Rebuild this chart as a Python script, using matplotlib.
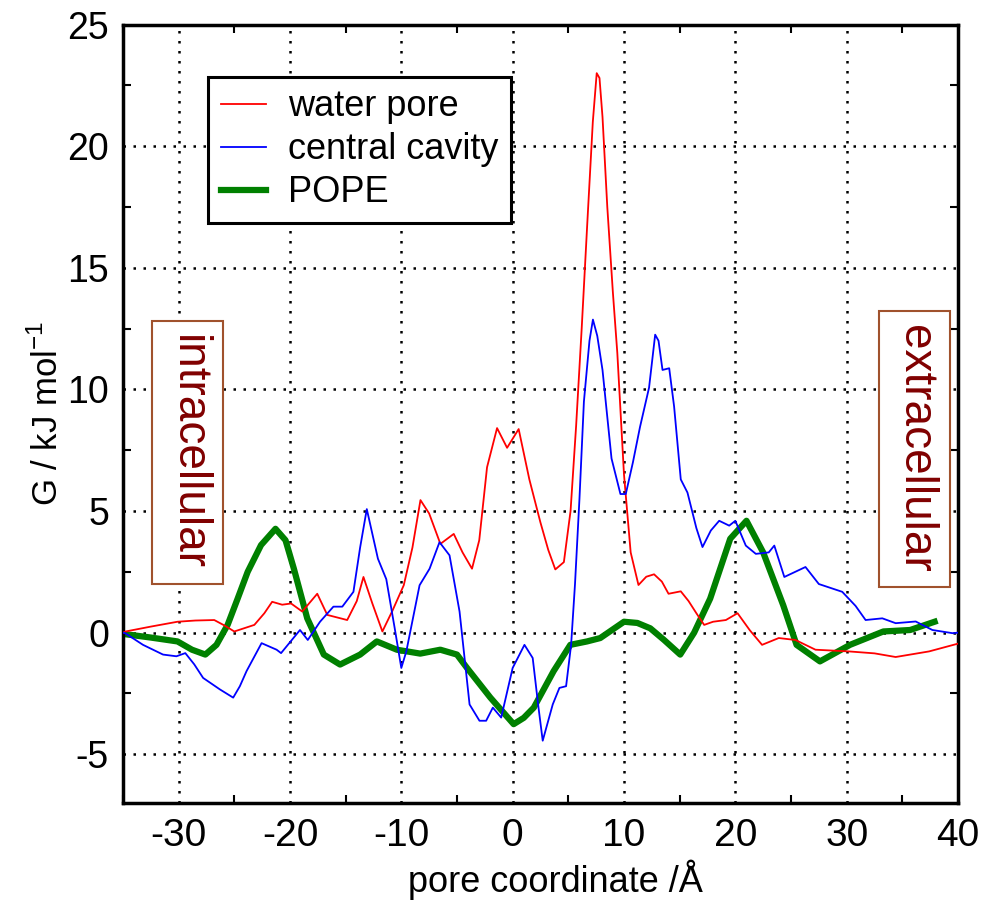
import numpy as np
import matplotlib
matplotlib.use("Agg")
import matplotlib.pyplot as plt
from matplotlib.ticker import MultipleLocator

# water pore (red)
water_x = [-35, -34.75, -32.5, -30.1, -28.5, -26.8, -25.9, -25.0, -23.2, -22.3, -21.6, -20.7,
           -19.9, -18.9, -17.55, -16.65, -14.86, -14.0, -13.4, -12.6, -11.7, -10.8, -9.78, -9.0,
           -8.28, -7.5, -6.49, -5.29, -4.5, -3.65, -3.0, -2.3, -1.4, -0.5, 0.54, 1.5, 2.49, 3.2,
           3.83, 4.6, 5.2, 5.7, 6.2, 6.7, 7.2, 7.55, 7.8, 8.07, 8.5, 9.0, 9.4, 10.0, 10.6, 11.3,
           12.0, 12.7, 13.4, 14.0, 15.1, 15.8, 16.5, 17.2, 18.0, 19.15, 20.2, 21.3, 22.4, 23.9,
           25.4, 27.2, 30.2, 32.5, 34.4, 37.4, 40]
water_y = [0.0, 0.05, 0.25, 0.45, 0.5, 0.52, 0.3, 0.05, 0.32, 0.8, 1.27, 1.15,
           1.2, 0.87, 1.6, 0.73, 0.52, 1.3, 2.29, 1.2, 0.05, 0.9, 1.95, 3.5,
           5.45, 4.9, 3.65, 4.06, 3.3, 2.63, 3.8, 6.8, 8.41, 7.6, 8.37, 6.3, 4.54, 3.4,
           2.6, 2.9, 5.0, 8.5, 12.5, 16.8, 21.0, 23.0, 22.8, 21.2, 17.5, 14.0, 11.5, 6.5, 3.3, 1.96,
           2.3, 2.4, 2.1, 1.6, 1.7, 1.3, 0.8, 0.32, 0.45, 0.52, 0.8, 0.1, -0.5, -0.22,
           -0.3, -0.7, -0.77, -0.85, -1.0, -0.77, -0.45]

# central cavity (blue)
cavity_x = [-35, -34.8, -33.2, -31.4, -30.2, -29.4, -28.6, -27.8, -26.3, -25.1, -24.5, -23.9,
            -22.55, -21.2, -20.8, -19.1, -18.4, -17.3, -16.1, -15.3, -14.3, -13.7, -13.1, -12.1,
            -11.35, -10.6, -10.0, -9.55, -8.36, -7.46, -6.57, -5.67, -4.77, -3.87, -2.98, -2.38,
            -1.78, -1.03, 0.0, 1.06, 1.8, 2.3, 2.7, 3.6, 4.2, 4.8, 5.25, 5.6, 6.0, 6.4, 6.9, 7.21,
            7.6, 8.07, 8.88, 9.68, 10.16, 10.8, 11.44, 12.25, 12.8, 13.1, 13.46, 14.06, 14.5, 15.1,
            15.7, 16.5, 17.05, 17.8, 18.55, 19.45, 20.0, 20.94, 21.84, 23.0, 23.5, 24.4, 26.3,
            27.5, 29.6, 30.8, 31.7, 33.2, 34.4, 36.2, 37.7, 39.5, 40]
cavity_y = [0.0, -0.02, -0.5, -0.9, -0.97, -0.84, -1.3, -1.86, -2.33, -2.67, -2.2, -1.58,
            -0.43, -0.7, -0.84, 0.11, -0.3, 0.45, 1.07, 1.07, 1.68, 3.5, 5.08, 3.04,
            2.2, 0.2, -1.45, -0.77, 1.95, 2.63, 3.72, 3.18, 0.87, -2.95, -3.62, -3.62,
            -3.08, -3.49, -1.45, -0.5, -1.04, -3.0, -4.44, -2.95, -2.27, -2.2, -0.5, 2.0, 5.5, 9.5, 12.0, 12.87,
            12.2, 10.8, 7.16, 5.7, 5.7, 7.0, 8.46, 10.07, 12.25, 12.0, 10.8, 10.87, 9.3, 6.3,
            5.76, 4.3, 3.52, 4.2, 4.6, 4.4, 4.6, 3.58, 3.24, 3.3, 3.58, 2.29, 2.7,
            2.0, 1.68, 1.1, 0.52, 0.59, 0.39, 0.46, 0.11, -0.02, 0.0]

# POPE (green)
pope_x = [-35, -32.5, -30.1, -28.8, -27.6, -26.6, -25.6, -24.7, -23.8, -22.6, -21.3, -20.4,
          -19.65, -18.45, -16.96, -15.5, -13.7, -12.2, -10.4, -8.3, -6.5, -5.0, -4.1, -2.0,
          0.09, 1.0, 1.9, 3.68, 5.18, 6.68, 7.87, 10.0, 11.2, 12.36, 13.6, 15.05, 16.3, 17.74,
          19.54, 21.0, 22.5, 24.3, 25.5, 27.6, 30.3, 33.3, 35.7, 37.9]
pope_y = [-0.05, -0.2, -0.36, -0.7, -0.9, -0.5, 0.32, 1.4, 2.5, 3.6, 4.27, 3.8,
          2.63, 0.59, -0.9, -1.31, -0.9, -0.36, -0.7, -0.86, -0.7, -0.9, -1.45, -2.67,
          -3.76, -3.5, -3.08, -1.58, -0.5, -0.36, -0.22, 0.45, 0.4, 0.18, -0.3, -0.9, 0.0, 1.4,
          3.86, 4.6, 3.3, 1.13, -0.5, -1.18, -0.5, 0.05, 0.11, 0.45]

labels = ["water pore", "central cavity", "POPE"]

plt.rcParams["font.family"] = ["Liberation Sans", "DejaVu Sans"]
plt.rcParams["axes.unicode_minus"] = False

fig = plt.figure(figsize=(9.94, 9.01), dpi=100)
ax = fig.add_axes([0.1237, 0.1088, 0.8401, 0.864])

ax.plot(water_x, water_y, color="#ff0000", lw=1.3, label=labels[0], zorder=3)
ax.plot(cavity_x, cavity_y, color="#0000ff", lw=1.3, label=labels[1], zorder=3)
ax.plot(pope_x, pope_y, color="#008000", lw=4.5, label=labels[2], zorder=2)

ax.set_xlim(-35, 40)
ax.set_ylim(-7, 25)
ax.xaxis.set_major_locator(MultipleLocator(10))
ax.xaxis.set_minor_locator(MultipleLocator(5))
ax.set_yticks([-5, 0, 5, 10, 15, 20, 25])
ax.yaxis.set_minor_locator(MultipleLocator(2.5))
ax.tick_params(which="both", direction="in", top=True, right=True)
ax.tick_params(which="major", length=0)
ax.tick_params(which="minor", length=6, width=1.5)
ax.tick_params(axis="x", which="major", pad=11, labelsize=28)
ax.tick_params(axis="y", which="major", pad=10, labelsize=27)
for sp in ax.spines.values():
    sp.set_linewidth(2.5)

ax.grid(True, which="major", color="black", linestyle=(0, (1, 3)), linewidth=1.8)

ax.set_xlabel("pore coordinate /Å", fontsize=26, va="center")
ax.xaxis.set_label_coords(0.518, -0.099)
ax.set_ylabel("G / kJ mol$^{\\mathregular{-1}}$", fontsize=25, va="center")
ax.yaxis.set_label_coords(-0.091, 0.5)

leg = ax.legend(loc="upper left", bbox_to_anchor=(0.102, 0.933), borderaxespad=0,
                fontsize=26, frameon=True, fancybox=False, handlelength=1.25,
                handletextpad=0.6, labelspacing=0.22, borderpad=0.35)
leg.get_frame().set_edgecolor("black")
leg.get_frame().set_linewidth(2.2)
leg.get_frame().set_alpha(1)

box = dict(boxstyle="square,pad=0.3", facecolor="white", edgecolor="#a0522d", linewidth=1.5)
ax.text(-29.2, 7.4, "intracellular", rotation=-90, color="#800000", fontsize=33,
        ha="center", va="center", bbox=box, zorder=5)
ax.text(36.1, 7.55, "extracellular", rotation=-90, color="#800000", fontsize=33,
        ha="center", va="center", bbox=box, zorder=5)

fig.savefig("out.png", dpi=100)
